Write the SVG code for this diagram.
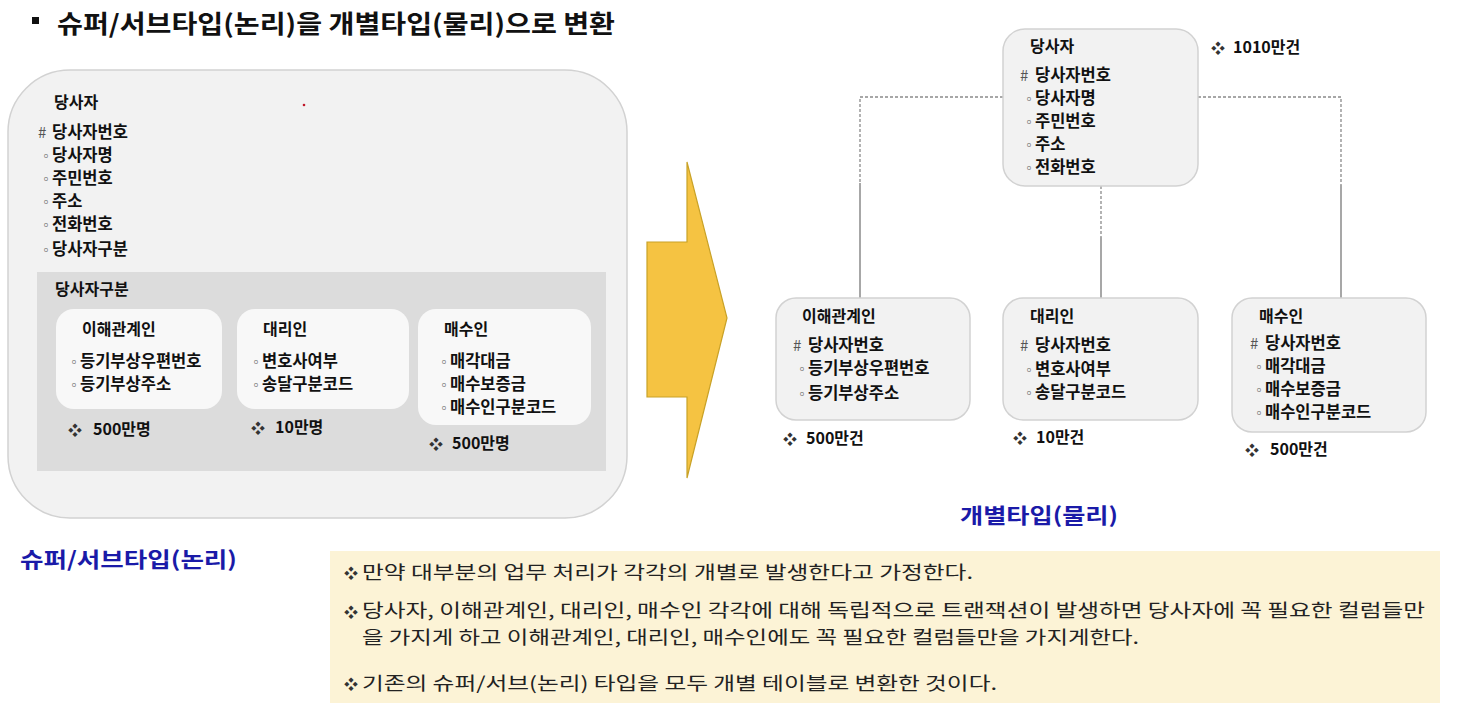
<svg xmlns="http://www.w3.org/2000/svg" width="1462" height="726" viewBox="0 0 1462 726">
<defs>
<style>
text{font-family:"Noto Sans CJK KR","Liberation Sans",sans-serif;fill:#111;}
.t{font-size:16.5px;font-weight:bold;}
.h{font-size:16px;font-weight:bold;}
.hash{font-size:15px;fill:#555;font-weight:normal;}
.ci{font-size:12px;fill:#555;}
.dm{font-size:14px;fill:#333;}
.cnt{font-size:16px;font-weight:bold;}
.note{font-size:18px;fill:#222;}
.blue{font-size:21px;font-weight:bold;fill:#1a1aa8;}
.box{fill:#f2f2f2;stroke:#d2d2d2;stroke-width:1.5;}
.sub{fill:#f8f8f8;stroke:none;}
.dash{stroke:#8a8a8a;stroke-width:1.3;stroke-dasharray:3 2;fill:none;}
.solid{stroke:#8a8a8a;stroke-width:1.5;fill:none;}
</style>
</defs>
<rect width="1462" height="726" fill="#ffffff"/>

<!-- title -->
<g id="title">
<rect x="32" y="17" width="7" height="7" fill="#111"/>
<text x="57" y="33" style="font-size:25px;font-weight:bold" textLength="558" lengthAdjust="spacingAndGlyphs">슈퍼/서브타입(논리)을 개별타입(물리)으로 변환</text>
</g>

<!-- left logical -->
<g id="logical-party">
<rect x="8" y="70" width="619" height="448" rx="62" class="box"/>
<circle cx="304" cy="105" r="1.3" fill="#c0182a"/>
<text x="54" y="108" class="h">당사자</text>
<text x="38" y="138" class="hash">#</text><text x="52" y="138" class="t">당사자번호</text>
<text x="40" y="161" class="ci">◦</text><text x="52" y="161" class="t">당사자명</text>
<text x="40" y="184" class="ci">◦</text><text x="52" y="184" class="t">주민번호</text>
<text x="40" y="207" class="ci">◦</text><text x="52" y="207" class="t">주소</text>
<text x="40" y="230" class="ci">◦</text><text x="52" y="230" class="t">전화번호</text>
<text x="40" y="255" class="ci">◦</text><text x="52" y="255" class="t">당사자구분</text>
</g>
<g id="logical-subtype-area">
<rect x="37" y="272" width="569" height="199" fill="#dcdcdc"/>
<text x="55" y="295" class="h">당사자구분</text>
</g>
<g id="logical-stakeholder">
<rect x="56" y="309" width="166" height="100" rx="18" class="sub"/>
<text x="82" y="335" class="h">이해관계인</text>
<text x="68" y="367" class="ci">◦</text><text x="80" y="367" class="t">등기부상우편번호</text>
<text x="68" y="390" class="ci">◦</text><text x="80" y="390" class="t">등기부상주소</text>
<text x="68" y="435" class="dm">❖</text><text x="93" y="435" class="cnt">500만명</text>
</g>
<g id="logical-agent">
<rect x="237" y="309" width="172" height="100" rx="18" class="sub"/>
<text x="263" y="335" class="h">대리인</text>
<text x="250" y="367" class="ci">◦</text><text x="262" y="367" class="t">변호사여부</text>
<text x="250" y="390" class="ci">◦</text><text x="262" y="390" class="t">송달구분코드</text>
<text x="251" y="433" class="dm">❖</text><text x="275" y="433" class="cnt">10만명</text>
</g>
<g id="logical-buyer">
<rect x="418" y="309" width="173" height="116" rx="18" class="sub"/>
<text x="444" y="335" class="h">매수인</text>
<text x="438" y="367" class="ci">◦</text><text x="450" y="367" class="t">매각대금</text>
<text x="438" y="390" class="ci">◦</text><text x="450" y="390" class="t">매수보증금</text>
<text x="438" y="413" class="ci">◦</text><text x="450" y="413" class="t">매수인구분코드</text>
<text x="429" y="449" class="dm">❖</text><text x="452" y="449" class="cnt">500만명</text>
</g>
<g id="logical-label">
<text x="20" y="567" class="blue" textLength="217" lengthAdjust="spacingAndGlyphs">슈퍼/서브타입(논리)</text>
</g>

<!-- arrow -->
<g id="arrow">
<polygon points="687,162 727,318 687,478 687,397 647,397 647,242 687,242" fill="#f5c342" stroke="#c9a227" stroke-width="1.2"/>
</g>

<!-- connectors -->
<g id="connectors">
<path d="M1003,97 H860 V183" class="dash"/>
<path d="M860,183 V298" class="solid"/>
<path d="M1198,97 H1341 V185" class="dash"/>
<path d="M1341,185 V298" class="solid"/>
<path d="M1101,186 V237" class="dash"/>
<path d="M1101,237 V298" class="solid"/>
</g>

<!-- right physical -->
<g id="phys-party">
<rect x="1003" y="29" width="195" height="157" rx="22" class="box"/>
<text x="1030" y="52" class="h">당사자</text>
<text x="1020" y="81" class="hash">#</text><text x="1035" y="81" class="t">당사자번호</text>
<text x="1023" y="104" class="ci">◦</text><text x="1035" y="104" class="t">당사자명</text>
<text x="1023" y="127" class="ci">◦</text><text x="1035" y="127" class="t">주민번호</text>
<text x="1023" y="150" class="ci">◦</text><text x="1035" y="150" class="t">주소</text>
<text x="1023" y="173" class="ci">◦</text><text x="1035" y="173" class="t">전화번호</text>
<text x="1211" y="53" class="dm">❖</text><text x="1233" y="53" class="cnt">1010만건</text>
</g>
<g id="phys-stakeholder">
<rect x="776" y="298" width="194" height="122" rx="20" class="box"/>
<text x="802" y="322" class="h">이해관계인</text>
<text x="793" y="351" class="hash">#</text><text x="808" y="351" class="t">당사자번호</text>
<text x="796" y="374" class="ci">◦</text><text x="808" y="374" class="t">등기부상우편번호</text>
<text x="796" y="399" class="ci">◦</text><text x="808" y="399" class="t">등기부상주소</text>
<text x="783" y="444" class="dm">❖</text><text x="806" y="444" class="cnt">500만건</text>
</g>
<g id="phys-agent">
<rect x="1003" y="298" width="195" height="122" rx="20" class="box"/>
<text x="1030" y="322" class="h">대리인</text>
<text x="1020" y="351" class="hash">#</text><text x="1035" y="351" class="t">당사자번호</text>
<text x="1023" y="375" class="ci">◦</text><text x="1035" y="375" class="t">변호사여부</text>
<text x="1023" y="398" class="ci">◦</text><text x="1035" y="398" class="t">송달구분코드</text>
<text x="1013" y="443" class="dm">❖</text><text x="1036" y="443" class="cnt">10만건</text>
</g>
<g id="phys-buyer">
<rect x="1232" y="298" width="194" height="134" rx="20" class="box"/>
<text x="1259" y="322" class="h">매수인</text>
<text x="1250" y="349" class="hash">#</text><text x="1265" y="349" class="t">당사자번호</text>
<text x="1253" y="372" class="ci">◦</text><text x="1265" y="372" class="t">매각대금</text>
<text x="1253" y="395" class="ci">◦</text><text x="1265" y="395" class="t">매수보증금</text>
<text x="1253" y="418" class="ci">◦</text><text x="1265" y="418" class="t">매수인구분코드</text>
<text x="1245" y="455" class="dm">❖</text><text x="1270" y="455" class="cnt">500만건</text>
</g>
<g id="phys-label">
<text x="960" y="523" class="blue" textLength="158" lengthAdjust="spacingAndGlyphs">개별타입(물리)</text>
</g>

<!-- notes -->
<g id="notes">
<rect x="330" y="551" width="1110" height="152" fill="#fcf3d6"/>
<text x="344" y="578" class="dm">❖</text>
<text x="362" y="579" class="note" textLength="611" lengthAdjust="spacingAndGlyphs">만약 대부분의 업무 처리가 각각의 개별로 발생한다고 가정한다.</text>
<text x="344" y="617" class="dm">❖</text>
<text x="362" y="617" class="note" textLength="1063" lengthAdjust="spacingAndGlyphs">당사자, 이해관계인, 대리인, 매수인 각각에 대해 독립적으로 트랜잭션이 발생하면 당사자에 꼭 필요한 컬럼들만</text>
<text x="362" y="644" class="note" textLength="777" lengthAdjust="spacingAndGlyphs">을 가지게 하고 이해관계인, 대리인, 매수인에도 꼭 필요한 컬럼들만을 가지게한다.</text>
<text x="344" y="689" class="dm">❖</text>
<text x="362" y="690" class="note" textLength="635" lengthAdjust="spacingAndGlyphs">기존의 슈퍼/서브(논리) 타입을 모두 개별 테이블로 변환한 것이다.</text>
</g>
</svg>
